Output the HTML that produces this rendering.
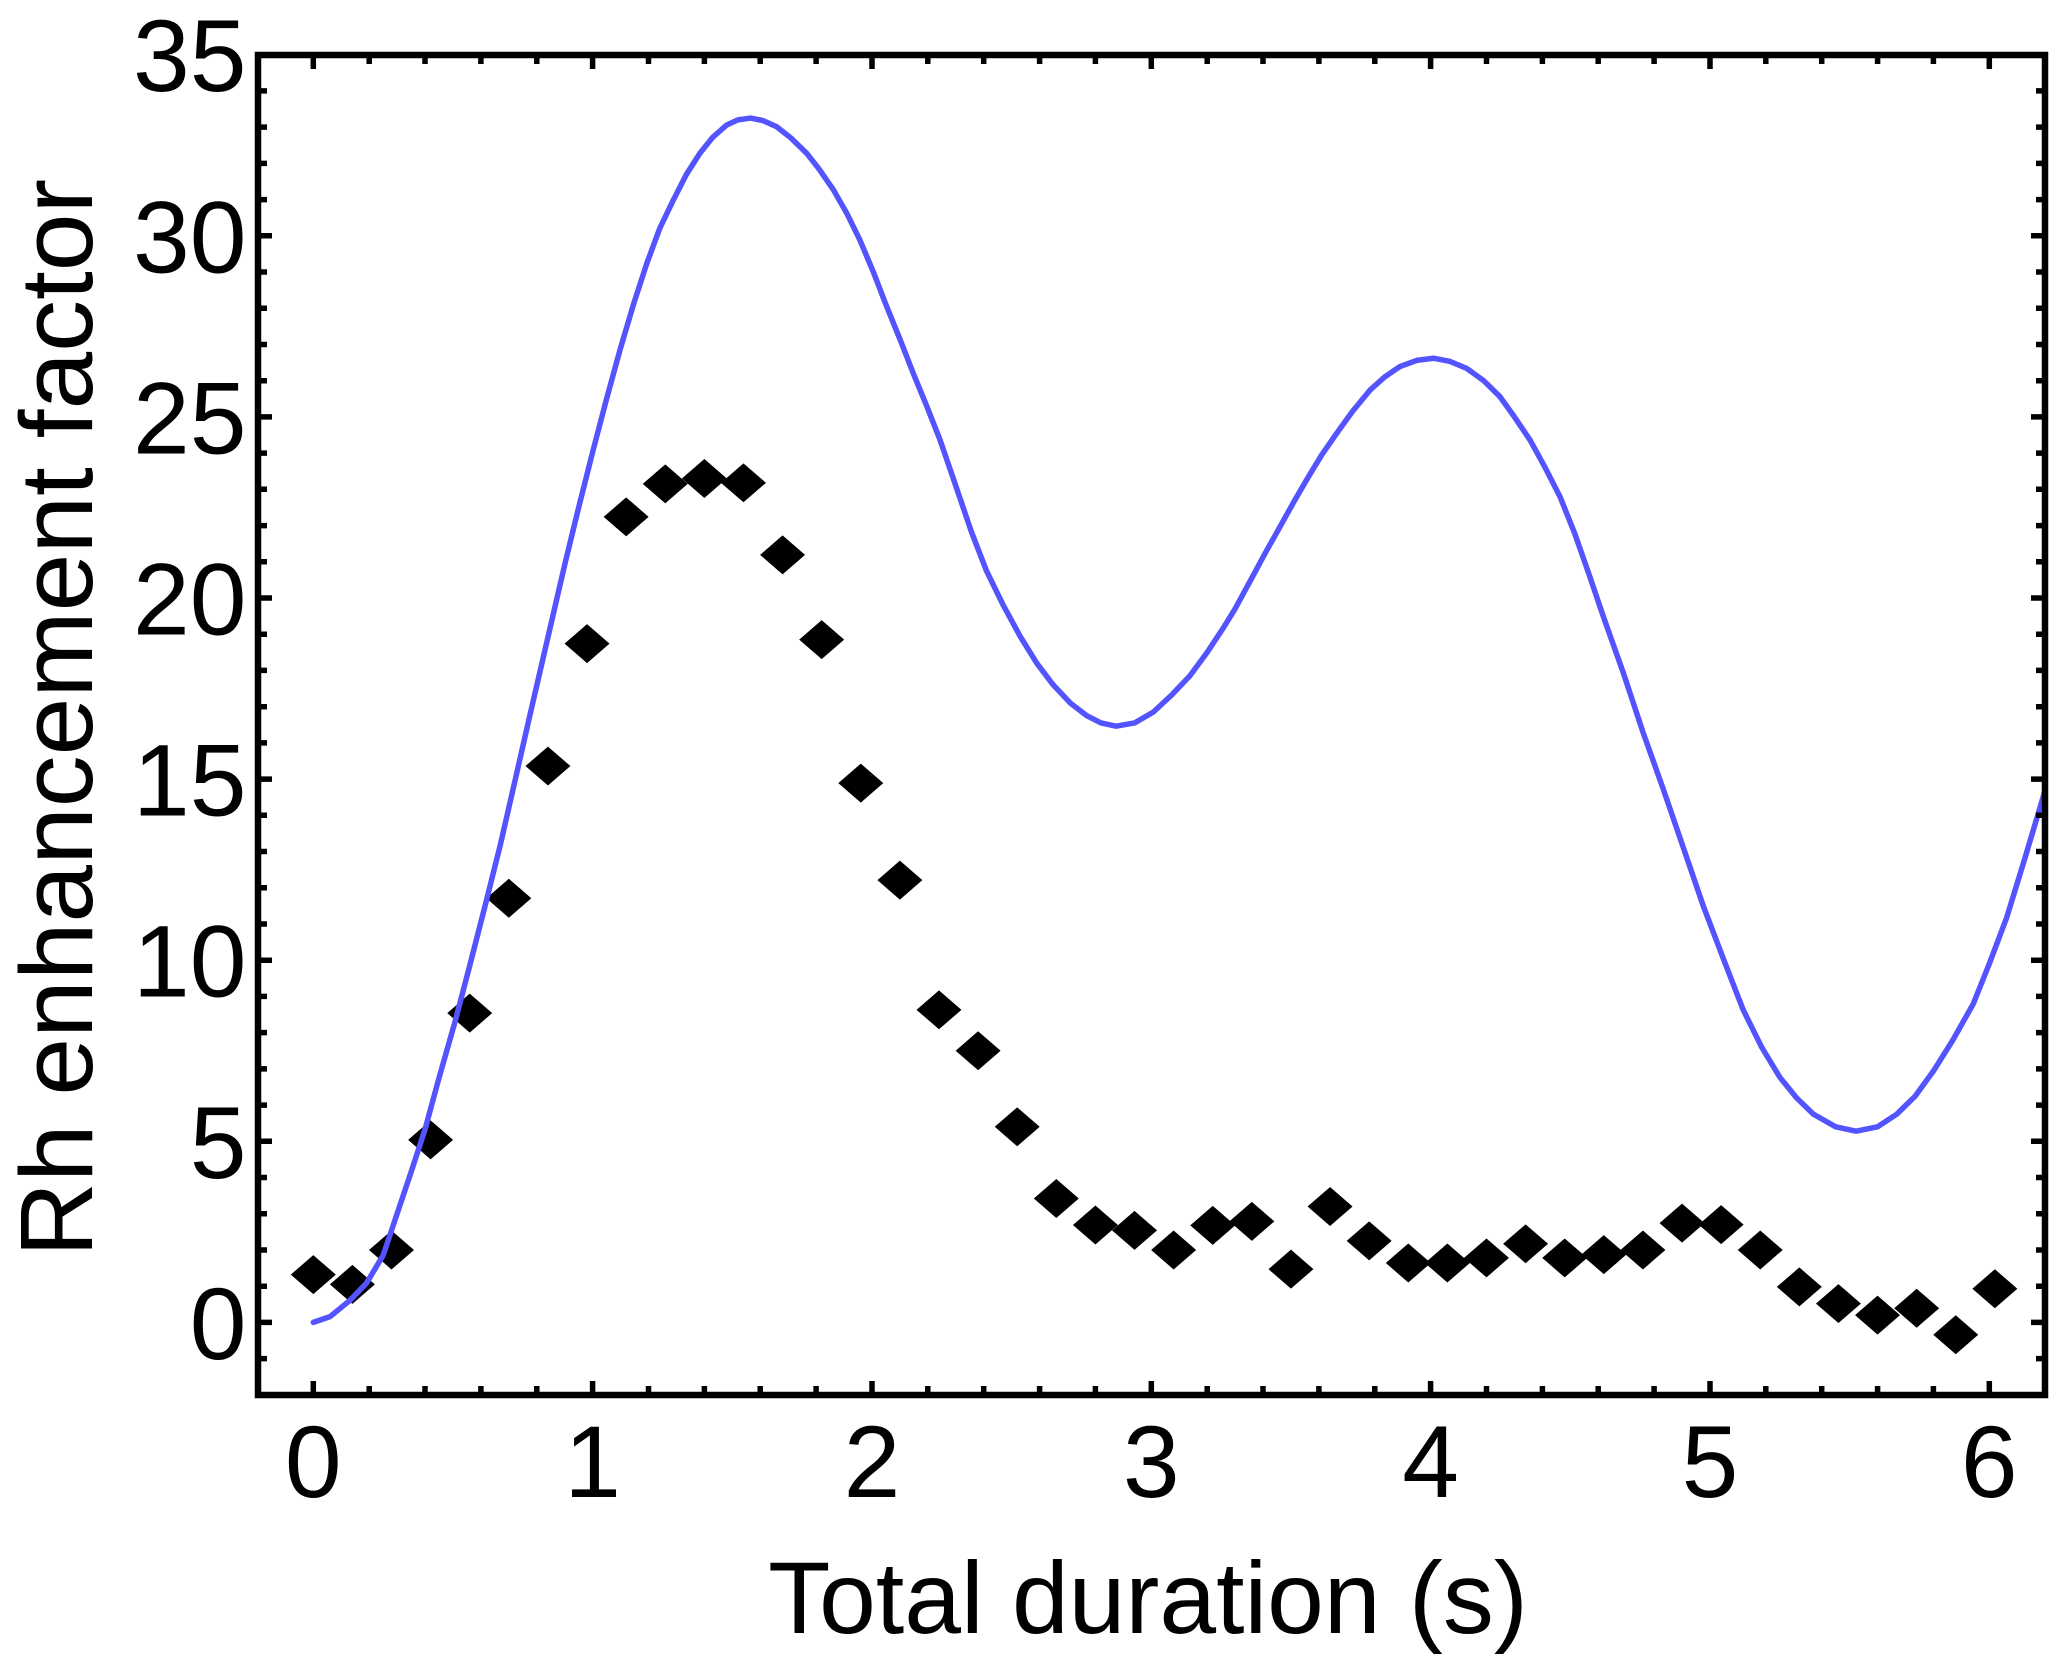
<!DOCTYPE html>
<html>
<head>
<meta charset="utf-8">
<style>
html,body{margin:0;padding:0;background:#fff;}
svg{display:block;}
text{font-family:"Liberation Sans",Arial,sans-serif;fill:#000;}
</style>
</head>
<body>
<svg width="2067" height="1673" viewBox="0 0 2067 1673" xmlns="http://www.w3.org/2000/svg">
<rect x="0" y="0" width="2067" height="1673" fill="#fff"/>
<defs>
<clipPath id="plotclip"><rect x="258" y="55" width="1787" height="1340"/></clipPath>
</defs>

<g clip-path="url(#plotclip)">
<g transform="matrix(279.33 0 0 -36.22 313.3 1322.4)">
<path fill="#000" stroke="none" d="
M-0.0805,1.32l0.0805,0.538l0.0805,-0.538l-0.0805,-0.538z
M0.0595,1.05l0.0805,0.538l0.0805,-0.538l-0.0805,-0.538z
M0.1995,2.0l0.0805,0.538l0.0805,-0.538l-0.0805,-0.538z
M0.3395,5.04l0.0805,0.538l0.0805,-0.538l-0.0805,-0.538z
M0.4795,8.54l0.0805,0.538l0.0805,-0.538l-0.0805,-0.538z
M0.6195,11.71l0.0805,0.538l0.0805,-0.538l-0.0805,-0.538z
M0.7595,15.36l0.0805,0.538l0.0805,-0.538l-0.0805,-0.538z
M0.8995,18.74l0.0805,0.538l0.0805,-0.538l-0.0805,-0.538z
M1.0395,22.24l0.0805,0.538l0.0805,-0.538l-0.0805,-0.538z
M1.1795,23.15l0.0805,0.538l0.0805,-0.538l-0.0805,-0.538z
M1.3195,23.3l0.0805,0.538l0.0805,-0.538l-0.0805,-0.538z
M1.4595,23.18l0.0805,0.538l0.0805,-0.538l-0.0805,-0.538z
M1.5995,21.19l0.0805,0.538l0.0805,-0.538l-0.0805,-0.538z
M1.7395,18.85l0.0805,0.538l0.0805,-0.538l-0.0805,-0.538z
M1.8795,14.89l0.0805,0.538l0.0805,-0.538l-0.0805,-0.538z
M2.0195,12.21l0.0805,0.538l0.0805,-0.538l-0.0805,-0.538z
M2.1595,8.63l0.0805,0.538l0.0805,-0.538l-0.0805,-0.538z
M2.2995,7.50l0.0805,0.538l0.0805,-0.538l-0.0805,-0.538z
M2.4395,5.40l0.0805,0.538l0.0805,-0.538l-0.0805,-0.538z
M2.5795,3.42l0.0805,0.538l0.0805,-0.538l-0.0805,-0.538z
M2.7195,2.69l0.0805,0.538l0.0805,-0.538l-0.0805,-0.538z
M2.8595,2.54l0.0805,0.538l0.0805,-0.538l-0.0805,-0.538z
M2.9995,2.0l0.0805,0.538l0.0805,-0.538l-0.0805,-0.538z
M3.1395,2.68l0.0805,0.538l0.0805,-0.538l-0.0805,-0.538z
M3.2795,2.79l0.0805,0.538l0.0805,-0.538l-0.0805,-0.538z
M3.4195,1.47l0.0805,0.538l0.0805,-0.538l-0.0805,-0.538z
M3.5595,3.20l0.0805,0.538l0.0805,-0.538l-0.0805,-0.538z
M3.6995,2.25l0.0805,0.538l0.0805,-0.538l-0.0805,-0.538z
M3.8395,1.64l0.0805,0.538l0.0805,-0.538l-0.0805,-0.538z
M3.9795,1.64l0.0805,0.538l0.0805,-0.538l-0.0805,-0.538z
M4.1195,1.78l0.0805,0.538l0.0805,-0.538l-0.0805,-0.538z
M4.2595,2.17l0.0805,0.538l0.0805,-0.538l-0.0805,-0.538z
M4.3995,1.78l0.0805,0.538l0.0805,-0.538l-0.0805,-0.538z
M4.5395,1.87l0.0805,0.538l0.0805,-0.538l-0.0805,-0.538z
M4.6795,2.0l0.0805,0.538l0.0805,-0.538l-0.0805,-0.538z
M4.8195,2.74l0.0805,0.538l0.0805,-0.538l-0.0805,-0.538z
M4.9595,2.70l0.0805,0.538l0.0805,-0.538l-0.0805,-0.538z
M5.0995,2.0l0.0805,0.538l0.0805,-0.538l-0.0805,-0.538z
M5.2395,0.98l0.0805,0.538l0.0805,-0.538l-0.0805,-0.538z
M5.3795,0.52l0.0805,0.538l0.0805,-0.538l-0.0805,-0.538z
M5.5195,0.20l0.0805,0.538l0.0805,-0.538l-0.0805,-0.538z
M5.6595,0.39l0.0805,0.538l0.0805,-0.538l-0.0805,-0.538z
M5.7995,-0.34l0.0805,0.538l0.0805,-0.538l-0.0805,-0.538z
M5.9395,0.93l0.0805,0.538l0.0805,-0.538l-0.0805,-0.538z
"/>
<polyline fill="none" stroke="#5454ff" stroke-width="5.5" stroke-linejoin="round" stroke-linecap="round" vector-effect="non-scaling-stroke"
points="0,0 0.06,0.16 0.13,0.6 0.19,1.08 0.25,1.85 0.30,3.0 0.35,4.15 0.40,5.33 0.45,6.75 0.507,8.29 0.56,9.85 0.615,11.5 0.67,13.2 0.722,14.95 0.775,16.75 0.829,18.55 0.865,19.75 0.901,20.95 0.95,22.5 1.002,24.09 1.05,25.5 1.098,26.85 1.146,28.1 1.194,29.24 1.24,30.2 1.289,30.99 1.336,31.7 1.384,32.28 1.43,32.72 1.48,33.06 1.52,33.2 1.566,33.25 1.61,33.18 1.659,33.01 1.71,32.7 1.766,32.28 1.81,31.85 1.862,31.27 1.91,30.62 1.957,29.88 2.005,29.0 2.053,28.04 2.10,27.15 2.148,26.2 2.196,25.3 2.244,24.36 2.30,23.1 2.355,21.85 2.41,20.75 2.47,19.8 2.53,18.95 2.59,18.2 2.649,17.6 2.71,17.1 2.769,16.75 2.82,16.55 2.874,16.46 2.94,16.55 3.007,16.85 3.07,17.3 3.138,17.85 3.2,18.5 3.26,19.2 3.3,19.7 3.359,20.54 3.41,21.27 3.461,21.97 3.51,22.65 3.556,23.26 3.61,23.95 3.664,24.55 3.72,25.15 3.783,25.74 3.835,26.1 3.89,26.39 3.95,26.56 4.01,26.62 4.07,26.53 4.129,26.34 4.19,26.0 4.248,25.56 4.30,25.0 4.356,24.36 4.41,23.6 4.463,22.8 4.515,21.8 4.565,20.7 4.62,19.45 4.69,17.93 4.76,16.3 4.833,14.72 4.905,13.1 4.976,11.5 5.05,10.0 5.119,8.63 5.185,7.6 5.25,6.77 5.31,6.2 5.37,5.75 5.45,5.4 5.523,5.28 5.60,5.4 5.669,5.75 5.735,6.25 5.80,6.94 5.87,7.8 5.943,8.8 6.00,9.9 6.062,11.17 6.125,12.75 6.188,14.38 6.23,15.5"/>
</g>
</g>

<g stroke="#000" stroke-width="5.5" fill="none">
<path d="M313.3,1395v-14 M369.2,1395v-9 M425.0,1395v-9 M480.9,1395v-9 M536.8,1395v-9 M592.6,1395v-14 M648.5,1395v-9 M704.4,1395v-9 M760.2,1395v-9 M816.1,1395v-9 M872.0,1395v-14 M927.8,1395v-9 M983.7,1395v-9 M1039.6,1395v-9 M1095.4,1395v-9 M1151.3,1395v-14 M1207.2,1395v-9 M1263.0,1395v-9 M1318.9,1395v-9 M1374.8,1395v-9 M1430.6,1395v-14 M1486.5,1395v-9 M1542.4,1395v-9 M1598.2,1395v-9 M1654.1,1395v-9 M1710.0,1395v-14 M1765.8,1395v-9 M1821.7,1395v-9 M1877.6,1395v-9 M1933.4,1395v-9 M1989.3,1395v-14"/>
<path d="M313.3,55v14 M369.2,55v9 M425.0,55v9 M480.9,55v9 M536.8,55v9 M592.6,55v14 M648.5,55v9 M704.4,55v9 M760.2,55v9 M816.1,55v9 M872.0,55v14 M927.8,55v9 M983.7,55v9 M1039.6,55v9 M1095.4,55v9 M1151.3,55v14 M1207.2,55v9 M1263.0,55v9 M1318.9,55v9 M1374.8,55v9 M1430.6,55v14 M1486.5,55v9 M1542.4,55v9 M1598.2,55v9 M1654.1,55v9 M1710.0,55v14 M1765.8,55v9 M1821.7,55v9 M1877.6,55v9 M1933.4,55v9 M1989.3,55v14"/>
<path d="M258,1358.6h9 M258,1322.4h14 M258,1286.2h9 M258,1250.0h9 M258,1213.7h9 M258,1177.5h9 M258,1141.3h14 M258,1105.1h9 M258,1068.9h9 M258,1032.6h9 M258,996.4h9 M258,960.2h14 M258,924.0h9 M258,887.8h9 M258,851.5h9 M258,815.3h9 M258,779.1h14 M258,742.9h9 M258,706.7h9 M258,670.4h9 M258,634.2h9 M258,598.0h14 M258,561.8h9 M258,525.6h9 M258,489.3h9 M258,453.1h9 M258,416.9h14 M258,380.7h9 M258,344.5h9 M258,308.2h9 M258,272.0h9 M258,235.8h14 M258,199.6h9 M258,163.4h9 M258,127.1h9 M258,90.9h9"/>
<path d="M2045,1358.6h-9 M2045,1322.4h-14 M2045,1286.2h-9 M2045,1250.0h-9 M2045,1213.7h-9 M2045,1177.5h-9 M2045,1141.3h-14 M2045,1105.1h-9 M2045,1068.9h-9 M2045,1032.6h-9 M2045,996.4h-9 M2045,960.2h-14 M2045,924.0h-9 M2045,887.8h-9 M2045,851.5h-9 M2045,815.3h-9 M2045,779.1h-14 M2045,742.9h-9 M2045,706.7h-9 M2045,670.4h-9 M2045,634.2h-9 M2045,598.0h-14 M2045,561.8h-9 M2045,525.6h-9 M2045,489.3h-9 M2045,453.1h-9 M2045,416.9h-14 M2045,380.7h-9 M2045,344.5h-9 M2045,308.2h-9 M2045,272.0h-9 M2045,235.8h-14 M2045,199.6h-9 M2045,163.4h-9 M2045,127.1h-9 M2045,90.9h-9"/>
</g>

<rect x="258" y="55" width="1787" height="1340" fill="none" stroke="#000" stroke-width="6.5"/>

<g font-size="102" text-anchor="end">
<text x="246.5" y="1358.9">0</text>
<text x="246.5" y="1177.8">5</text>
<text x="246.5" y="996.7">10</text>
<text x="246.5" y="815.6">15</text>
<text x="246.5" y="634.5">20</text>
<text x="246.5" y="453.4">25</text>
<text x="246.5" y="272.3">30</text>
<text x="246.5" y="91.2">35</text>
</g>

<g font-size="102" text-anchor="middle">
<text x="313.3" y="1497">0</text>
<text x="592.6" y="1497">1</text>
<text x="872.0" y="1497">2</text>
<text x="1151.3" y="1497">3</text>
<text x="1430.6" y="1497">4</text>
<text x="1710.0" y="1497">5</text>
<text x="1989.3" y="1497">6</text>
</g>

<text x="1148" y="1633" font-size="102" text-anchor="middle">Total duration (s)</text>
<text transform="translate(92,718) rotate(-90)" font-size="103" text-anchor="middle" textLength="1078" lengthAdjust="spacingAndGlyphs">Rh enhancement factor</text>
</svg>
</body>
</html>
